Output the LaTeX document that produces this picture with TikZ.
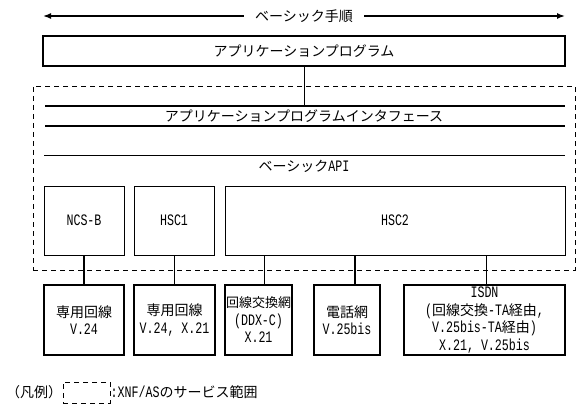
\documentclass[tikz,border=0pt]{standalone}
\usepackage{fontspec}
\setmainfont{Noto Sans CJK JP}
\newfontfamily\latinfont{Liberation Mono}[FakeStretch=0.73, Scale=1.14]
\newcommand\lt[1]{{\latinfont #1}}
\usetikzlibrary{arrows.meta}
\tikzset{
  thickbox/.style={draw, line width=1.6pt, inner sep=0pt, align=center},
  thinbox/.style={draw, line width=0.9pt, inner sep=0pt, align=center},
  dasharea/.style={draw, dash pattern=on 5pt off 4pt, line width=0.9pt, inner sep=0pt},
  conn/.style={line width=0.9pt},
  thickconn/.style={line width=1.8pt},
  ifline/.style={line width=1.6pt},
  apiline/.style={line width=0.9pt},
  label/.style={inner sep=0pt},
  tip/.style={-{Latex[length=8pt,width=6pt]}, line width=1.5pt}
}
\begin{document}
\begin{tikzpicture}[x=1pt,y=-1pt,font=\fontsize{14}{17.5}\selectfont]
\useasboundingbox (0,0) rectangle (580,409);

% top arrow
\coordinate (arL) at (43,16);
\coordinate (arR) at (565,16);
\node[label, inner xsep=11pt] (basic) at (304,16) {ベーシック手順};
\draw[tip] (basic.west) -- (arL);
\draw[tip] (basic.east) -- (arR);

% application program
\node[thickbox, minimum width=522pt, minimum height=30pt] (app) at (304,51) {アプリケーションプログラム};

% service area
\node[dasharea, minimum width=542pt, minimum height=184pt] (area) at (304,178) {};

% interface lines
\coordinate (ifL1) at (45,106);
\coordinate (ifR1) at (565,106);
\coordinate (ifL2) at (45,126);
\coordinate (ifR2) at (565,126);
\draw[ifline] (ifL1) -- (ifR1);
\draw[ifline] (ifL2) -- (ifR2);
\node[label] (iftext) at (304,116) {アプリケーションプログラムインタフェース};
\draw[conn] (app.south) -- (app.south |- ifL1);

% basic API
\coordinate (apiL) at (44,155);
\coordinate (apiR) at (565,155);
\draw[apiline] (apiL) -- (apiR);
\node[label] (apitext) at (304,166) {ベーシック\lt{API}};

% controllers
\node[thinbox, minimum width=80pt, minimum height=69pt] (ncsb) at (84,220.5) {\lt{NCS-B}};
\node[thinbox, minimum width=80pt, minimum height=69pt] (hsc1) at (174,220.5) {\lt{HSC1}};
\node[thinbox, minimum width=340pt, minimum height=69pt] (hsc2) at (395,220.5) {\lt{HSC2}};

% lines
\node[thickbox, minimum width=80pt, minimum height=70pt] (b1) at (84,320) {専用回線\\\lt{V.24}};
\node[thickbox, minimum width=81pt, minimum height=70pt] (b2) at (174.5,320) {専用回線\\\lt{V.24, X.21}};
\node[thickbox, minimum width=67pt, minimum height=70pt] (b3) at (258.5,320) {{\fontsize{13}{17.5}\selectfont 回線交換網}\\\lt{(DDX-C)}\\\lt{X.21}};
\node[thickbox, minimum width=66pt, minimum height=70pt] (b4) at (347,320) {電話網\\\lt{V.25bis}};
\node[thickbox, minimum width=161pt, minimum height=70pt] (b5) at (484.5,320) {\lt{ISDN}\\\lt{(}回線交換\lt{-TA}経由\lt{,}\\\lt{V.25bis-TA}経由\lt{)}\\\lt{X.21, V.25bis}};

% connectors
\draw[thickconn] (ncsb.south) -- (b1.north);
\draw[conn] (hsc1.south) -- (hsc1.south |- b2.north);
\draw[conn] ([xshift=5.5pt]b3.north) -- ([xshift=5.5pt]b3.north |- hsc2.south);
\draw[thickconn] ([xshift=8pt]b4.north) -- ([xshift=8pt]b4.north |- hsc2.south);
\draw[conn] ([xshift=1.5pt]b5.north) -- ([xshift=1.5pt]b5.north |- hsc2.south);

% legend
\node[label, anchor=west] (legtitle) at (6,392) {（凡例）};
\node[dasharea, minimum width=47pt, minimum height=21pt] (legbox) at (86.5,392.5) {};
\node[label, anchor=west] (legtext) at (legbox.east) {\lt{:XNF/AS}のサービス範囲};
\end{tikzpicture}
\end{document}
